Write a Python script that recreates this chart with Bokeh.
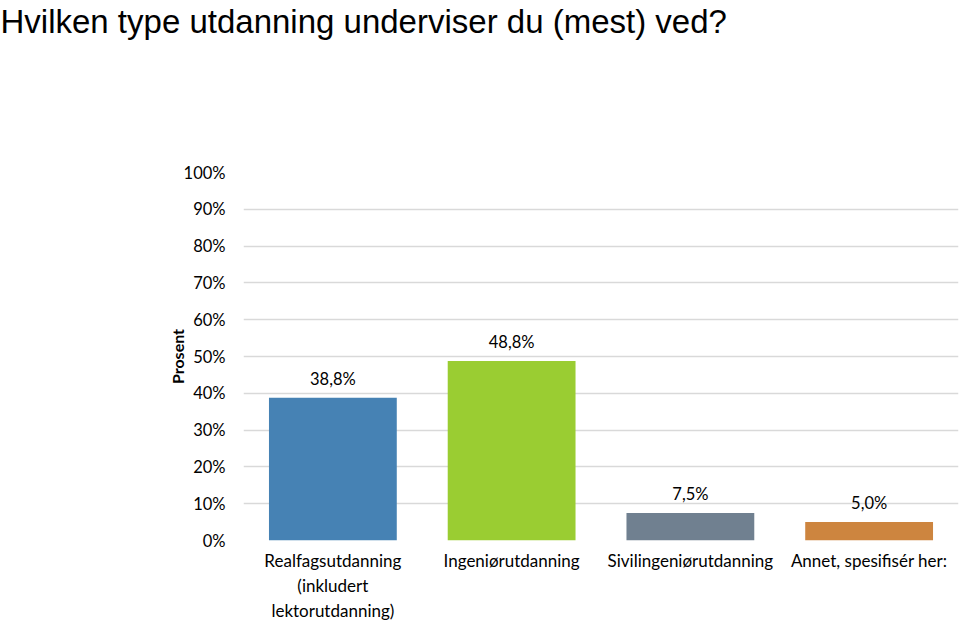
from bokeh.plotting import figure
from bokeh.models import NumeralTickFormatter, FixedTicker, ColumnDataSource, Range1d, Title
from bokeh.embed import file_html
from bokeh.resources import INLINE
from bokeh.core.properties import value

title_text = "Hvilken type utdanning underviser du (mest) ved?"
categories = ["Realfagsutdanning\n(inkludert\nlektorutdanning)", "Ingeniørutdanning",
              "Sivilingeniørutdanning", "Annet, spesifisér her:"]
values = [0.388, 0.488, 0.075, 0.050]
labels = ["38,8%", "48,8%", "7,5%", "5,0%"]
colors = ["#4682B4", "#9ACD32", "#708090", "#CD853F"]
yticks = [0, 0.1, 0.2, 0.3, 0.4, 0.5, 0.6, 0.7, 0.8, 0.9, 1.0]

src = ColumnDataSource(dict(cat=categories, val=values, lab=labels, col=colors))

p = figure(width=960, height=623, x_range=categories, y_range=Range1d(0, 1),
           output_backend="svg", toolbar_location=None, title=None,
           min_border_left=243, min_border_right=2, min_border_top=172, min_border_bottom=82)
p.outline_line_color = None
p.background_fill_color = "white"

spacer = Title(text=" ", text_font_size="10px", standoff=120, text_color="white")
p.add_layout(spacer, "above")
main_title = Title(text=title_text, align="left", offset=-243, standoff=0,
                   text_font="Liberation Sans", text_font_style="normal",
                   text_font_size="33px", text_color="#000000")
p.add_layout(main_title, "above")

p.vbar(x="cat", top="val", width=0.715, color="col", source=src, line_color=None)
p.text(x="cat", y="val", text="lab", source=src, text_align="center", text_baseline="bottom",
       y_offset=-9, text_font=value("Lato"), text_font_size="16.5px", text_color="#000000")

p.yaxis.ticker = FixedTicker(ticks=yticks)
p.yaxis.formatter = NumeralTickFormatter(format="0%")
p.yaxis.axis_line_color = None
p.yaxis.major_tick_line_color = None
p.yaxis.minor_tick_line_color = None
p.yaxis.major_label_text_font = "Lato"
p.yaxis.major_label_text_font_size = "16.5px"
p.yaxis.major_label_text_color = "#000000"
p.yaxis.major_label_standoff = 12
p.yaxis.axis_label = "Prosent"
p.yaxis.axis_label_text_font = "Lato"
p.yaxis.axis_label_text_font_style = "bold"
p.yaxis.axis_label_text_font_size = "16px"
p.yaxis.axis_label_text_color = "#000000"
p.yaxis.axis_label_standoff = -6

p.xaxis.axis_line_color = None
p.xaxis.major_tick_line_color = None
p.xaxis.minor_tick_line_color = None
p.xaxis.major_label_text_font = "Lato"
p.xaxis.major_label_text_font_size = "17px"
p.xaxis.major_label_text_color = "#000000"
p.xaxis.major_label_standoff = 3

p.xgrid.grid_line_color = None
p.ygrid.grid_line_color = "#d9d9d9"
p.ygrid.grid_line_width = 1.5

open("out.html", "w").write(file_html(p, INLINE))
